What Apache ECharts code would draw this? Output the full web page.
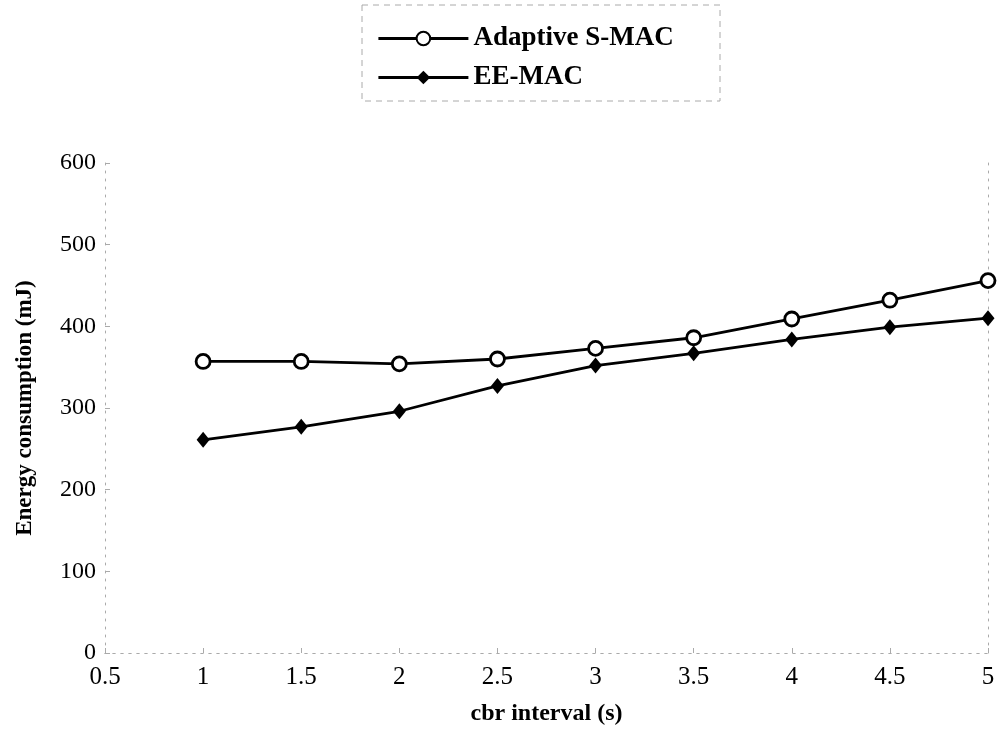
<!DOCTYPE html>
<html>
<head>
<meta charset="utf-8">
<script src="https://cdn.jsdelivr.net/npm/echarts@6/dist/echarts.min.js"></script>
<style>
  html, body { margin: 0; padding: 0; background: #fff; }
  #chart { width: 1004px; height: 733px; }
</style>
</head>
<body>
<div id="chart"></div>
<script>
// data
var cbrInterval = [1, 1.5, 2, 2.5, 3, 3.5, 4, 4.5, 5];
var adaptiveSMAC = [357, 357, 354, 360, 373, 386, 409, 432, 456];
var eeMAC = [261, 277, 296, 327, 352, 367, 384, 399, 410];
var seriesNames = ['Adaptive S-MAC', 'EE-MAC'];

function pairs(xs, ys){
  return xs.map(function(x, i){ return [x, ys[i]]; });
}

var FONT = '"Liberation Serif", "Times New Roman", serif';
var faint = { color: '#aaa', width: 1, type: [2, 6] };

var myChart = echarts.init(document.getElementById('chart'), null, {renderer: 'canvas'});

var chartOpt = {
  backgroundColor: '#fff',
  animation: false,
  textStyle: { fontFamily: FONT, color: '#000' },
  grid: { left: 105, right: 16, top: 163, bottom: 80 },
  legend: {
    orient: 'vertical',
    left: 372, top: 20,
    itemWidth: 90, itemHeight: 17, itemGap: 12,
    data: seriesNames,
    lineStyle: { width: 2.8, color: '#000' },
    textStyle: { fontFamily: FONT, fontSize: 27, fontWeight: 'bold', color: '#000' }
  },
  graphic: [{
    type: 'rect',
    shape: { x: 362, y: 5, width: 358, height: 96 },
    style: { fill: 'none', stroke: '#aaa', lineWidth: 1, lineDash: [6, 5] },
    silent: true
  }],
  xAxis: [{
    type: 'value', min: 0.5, max: 5, interval: 0.5,
    name: 'cbr interval (s)', nameLocation: 'middle', nameGap: 49,
    nameTextStyle: { fontFamily: FONT, fontSize: 24, fontWeight: 'bold', color: '#000' },
    axisLine: { show: true, lineStyle: faint },
    axisTick: { show: true, inside: true, length: 5, lineStyle: { color: '#aaa' } },
    axisLabel: { fontFamily: FONT, fontSize: 25, color: '#000', margin: 12 },
    splitLine: { show: false }
  }, {
    type: 'value', position: 'top', min: 0.5, max: 5, interval: 0.5,
    axisLine: { show: true, lineStyle: faint },
    axisTick: { show: false }, axisLabel: { show: false }, splitLine: { show: false }
  }],
  yAxis: [{
    type: 'value', min: 0, max: 600, interval: 100,
    name: 'Energy consumption (mJ)', nameLocation: 'middle', nameGap: 68,
    nameTextStyle: { fontFamily: FONT, fontSize: 23, fontWeight: 'bold', color: '#000' },
    axisLine: { show: true, lineStyle: faint },
    axisTick: { show: true, inside: true, length: 5, lineStyle: { color: '#aaa' } },
    axisLabel: { fontFamily: FONT, fontSize: 24, color: '#000', margin: 9 },
    splitLine: { show: false }
  }, {
    type: 'value', position: 'right', min: 0, max: 600, interval: 100,
    axisLine: { show: true, lineStyle: faint },
    axisTick: { show: false }, axisLabel: { show: false }, splitLine: { show: false }
  }],
  series: [{
    name: seriesNames[0],
    type: 'line',
    data: pairs(cbrInterval, adaptiveSMAC),
    symbol: 'circle', symbolSize: 14,
    lineStyle: { color: '#000', width: 2.8 },
    itemStyle: { color: '#fff', borderColor: '#000', borderWidth: 2.8 }
  }, {
    name: seriesNames[1],
    type: 'line',
    data: pairs(cbrInterval, eeMAC),
    symbol: 'diamond', symbolSize: [13, 16],
    lineStyle: { color: '#000', width: 2.8 },
    itemStyle: { color: '#000' }
  }]
};

myChart.setOption(chartOpt);
</script>
</body>
</html>
